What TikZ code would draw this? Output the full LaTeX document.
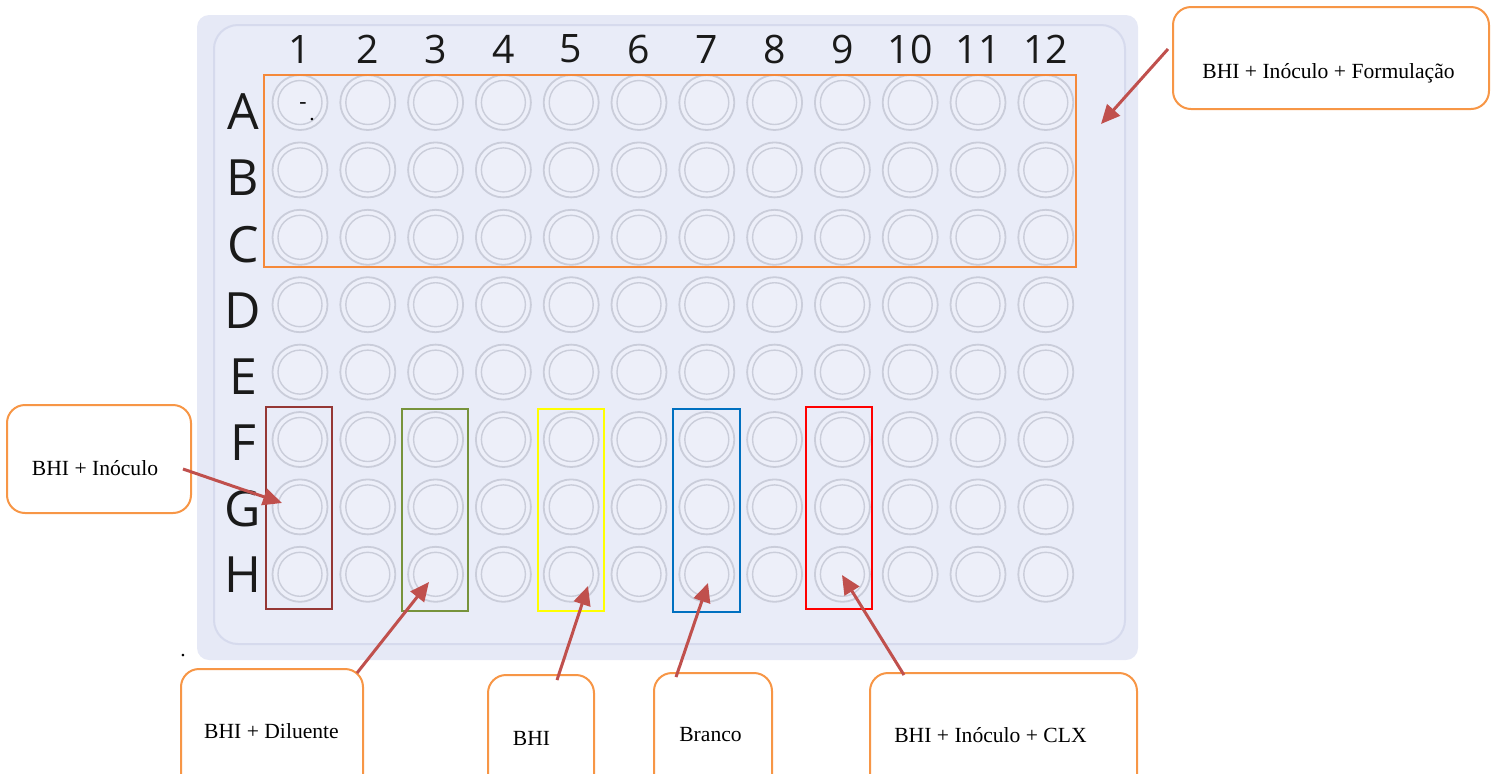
\documentclass[tikz,border=0pt]{standalone}
\usepackage{fontspec}
\setmainfont{Liberation Serif}
\newfontfamily\platefont{Open Sans}
\usetikzlibrary{arrows.meta,calc}
\definecolor{platebg}{HTML}{E6E9F6}
\definecolor{plateinner}{HTML}{E9ECF8}
\definecolor{plateline}{HTML}{D6DAED}
\definecolor{wellring}{HTML}{CACDDA}
\definecolor{wellfill}{HTML}{EDEFF9}
\definecolor{callorange}{HTML}{F79646}
\definecolor{arrowred}{HTML}{C0504D}
\definecolor{boxorange}{HTML}{F5893A}
\definecolor{boxbrown}{HTML}{953735}
\definecolor{boxgreen}{HTML}{77933C}
\definecolor{boxyellow}{HTML}{FFFF00}
\definecolor{boxblue}{HTML}{0070C0}
\definecolor{boxred}{HTML}{FF0000}
\definecolor{labelink}{HTML}{1A1A1A}
\begin{document}
\begin{tikzpicture}[x=0.5pt,y=-0.5pt,
  callout/.style={draw=callorange, line width=1pt, rounded corners=9pt, fill=white, inner sep=0pt},
  calltext/.style={inner sep=0pt, font=\fontsize{10.8}{13}\selectfont},
  pointer/.style={draw=arrowred, line width=1.5pt, -{Triangle[length=9.5pt,width=8.5pt]}},
  groupbox/.style={line width=1pt},
  well/.style={circle, draw=wellring, line width=0.9pt, fill=wellfill, minimum size=27.5pt, inner sep=0pt},
  wellin/.style={circle, draw=wellring, line width=0.7pt, minimum size=22pt, inner sep=0pt},
  collabel/.style={inner sep=0pt, text=labelink, font=\platefont\fontsize{19.6}{22}\selectfont},
  rowlabel/.style={inner sep=0pt, text=labelink, font=\platefont\fontsize{25}{28}\selectfont},
  stray/.style={inner sep=0pt, font=\fontsize{10.8}{13}\selectfont}
]
\useasboundingbox (0,0) rectangle (1496,773);
\clip (0,0) rectangle (1496,773);
% plate
\fill[platebg, rounded corners=6pt] (197,15) rectangle (1138,660);
\draw[plateline, line width=1pt, fill=plateinner, rounded corners=12pt] (214,25) rectangle (1125,644);
% column labels
\foreach \c in {1,...,12} {
  \node[collabel] (col\c) at ({300+(\c-1)*67.8},49) {\c};
}
% row labels and wells
\foreach \r/\L in {1/A,2/B,3/C,4/D,5/E,6/F,7/G,8/H} {
  \node[rowlabel] (row\L) at (243,{112+(\r-1)*66.1}) {\L};
  \foreach \c in {1,...,12} {
    \node[well] (w\L\c) at ({300+(\c-1)*67.8},{102.5+(\r-1)*67.4}) {};
    \node[wellin] (wi\L\c) at (w\L\c) {};
  }
}
% stray marks
\node[stray] (dashA) at (303,106) {-};
\node[stray] (dotA) at (312,120) {.};
\node[stray] (dotL) at (183,656) {.};
% group boxes
\draw[groupbox, draw=boxorange] (264,75) rectangle (1076,267);
\draw[groupbox, draw=boxbrown] (266,407) rectangle (332,609);
\draw[groupbox, draw=boxgreen] (402,409) rectangle (468,611);
\draw[groupbox, draw=boxyellow] (538,409) rectangle (604,611);
\draw[groupbox, draw=boxblue] (673,409) rectangle (740,612);
\draw[groupbox, draw=boxred] (806,407) rectangle (872,609);
% callouts
\node[callout, minimum width=158pt, minimum height=51pt] (cForm) at (1331,58) {};
\node[calltext] (tForm) at (1328.5,73) {BHI + Inóculo + Formulação};
\node[callout, minimum width=92pt, minimum height=54pt] (cInoc) at (99,459) {};
\node[calltext] (tInoc) at (95,468) {BHI + Inóculo};
\node[callout, minimum width=91pt, minimum height=65pt] (cDil) at (272,734) {};
\node[calltext] (tDil) at (271.5,731) {BHI + Diluente};
\node[callout, minimum width=53pt, minimum height=62pt] (cBHI) at (541,737) {};
\node[calltext] (tBHI) at (531.5,738) {BHI};
\node[callout, minimum width=59pt, minimum height=63pt] (cBranco) at (713,736) {};
\node[calltext] (tBranco) at (710.5,735) {Branco};
\node[callout, minimum width=133.5pt, minimum height=63pt] (cCLX) at (1003.5,736) {};
\node[calltext] (tCLX) at (990.5,735) {BHI + Inóculo + CLX};
% arrow end points
\coordinate (sForm) at (1168,49);   \coordinate (eForm) at (1101,124);
\coordinate (sInoc) at (183,469);   \coordinate (eInoc) at (282,503);
\coordinate (sDil) at (357,673);    \coordinate (eDil) at (429,582);
\coordinate (sBHI) at (557,680);    \coordinate (eBHI) at (588,586);
\coordinate (sBranco) at (676,677); \coordinate (eBranco) at (708,583);
\coordinate (sCLX) at (904,675);    \coordinate (eCLX) at (842,575);
\draw[pointer] (sForm) -- (eForm);
\draw[pointer] (sInoc) -- (eInoc);
\draw[pointer] (sDil) -- (eDil);
\draw[pointer] (sBHI) -- (eBHI);
\draw[pointer] (sBranco) -- (eBranco);
\draw[pointer] (sCLX) -- (eCLX);
\end{tikzpicture}
\end{document}
